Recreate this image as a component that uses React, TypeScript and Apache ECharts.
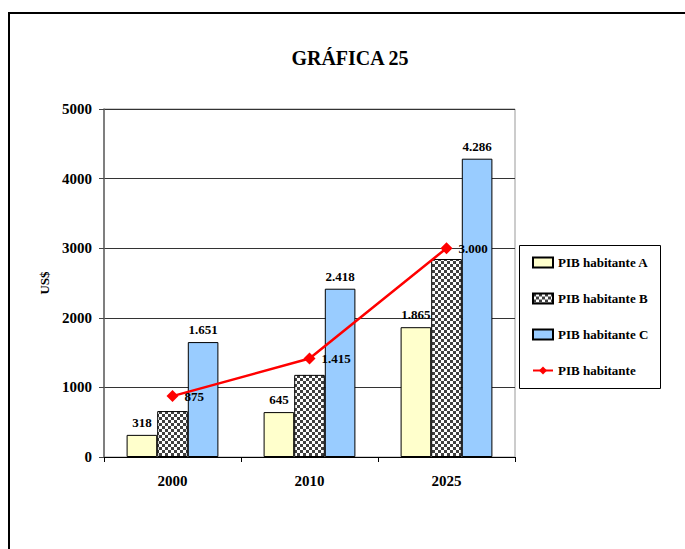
import React, { useEffect, useRef } from "react";
import * as echarts from "echarts";

const categories = ["2000", "2010", "2025"];
const seriesA = [318, 645, 1865];
const seriesB = [660, 1180, 2845];
const seriesC = [1651, 2418, 4286];
const seriesLine = [875, 1415, 3000];
const seriesNames = ["PIB habitante A", "PIB habitante B", "PIB habitante C", "PIB habitante"];
const yTicks = { min: 0, max: 5000, interval: 1000 };

const FONT = "'Liberation Serif', 'Times New Roman', serif";

function fmt(v: number): string {
  const s = String(Math.round(v));
  return s.replace(/\B(?=(\d{3})+(?!\d))/g, ".");
}

function makeChecker(): HTMLCanvasElement {
  const c = document.createElement("canvas");
  c.width = 6;
  c.height = 6;
  const ctx = c.getContext("2d")!;
  ctx.fillStyle = "#ffffff";
  ctx.fillRect(0, 0, 6, 6);
  ctx.fillStyle = "#404040";
  ctx.fillRect(0, 0, 3, 3);
  ctx.fillRect(3, 3, 3, 3);
  return c;
}

export default function App() {
  const ref = useRef<HTMLDivElement>(null);
  useEffect(() => {
    if (!ref.current) return;
    const chart = echarts.init(ref.current, null, { renderer: "svg" });
    const checker = makeChecker();
    const barLabel = {
      show: true,
      position: "top" as const,
      distance: 6,
      color: "#000",
      fontFamily: FONT,
      fontWeight: "bold" as const,
      fontSize: 13,
      formatter: (p: any) => fmt(p.value),
    };
    const option: any = {
      animation: false,
      backgroundColor: "#ffffff",
      textStyle: { fontFamily: FONT },
      grid: {
        left: 104,
        right: 170,
        top: 109,
        bottom: 92,
        show: true,
        borderColor: "#999999",
        borderWidth: 1,
      },
      graphic: [
        {
          type: "rect",
          shape: { x: 9, y: 13, width: 800, height: 800 },
          style: { fill: "none", stroke: "#000", lineWidth: 2 },
          silent: true,
        },
        {
          type: "text",
          x: 350,
          y: 58,
          style: {
            text: "GRÁFICA 25",
            fontFamily: FONT,
            fontWeight: "bold",
            fontSize: 20,
            fill: "#000",
            align: "center",
            verticalAlign: "middle",
          },
        },
        {
          type: "rect",
          shape: { x: 519.5, y: 245.5, width: 141, height: 143 },
          style: { fill: "#fff", stroke: "#000", lineWidth: 1 },
          z: -1,
          silent: true,
        },
      ],
      legend: {
        orient: "vertical",
        left: 527,
        top: 250,
        itemWidth: 20,
        itemHeight: 10,
        itemGap: 21,
        textStyle: {
          fontFamily: FONT,
          fontWeight: "bold",
          fontSize: 13,
          color: "#000",
          lineHeight: 15,
        },
        data: [
          { name: seriesNames[0], icon: "rect" },
          { name: seriesNames[1], icon: "rect" },
          { name: seriesNames[2], icon: "rect" },
          { name: seriesNames[3] },
        ],
      },
      xAxis: {
        type: "category",
        data: categories,
        axisLine: { lineStyle: { color: "#000", width: 1 } },
        axisTick: { show: true, length: 5, inside: false, lineStyle: { color: "#000" } },
        axisLabel: {
          color: "#000",
          fontFamily: FONT,
          fontWeight: "bold",
          fontSize: 15,
          margin: 16,
        },
      },
      yAxis: {
        type: "value",
        min: yTicks.min,
        max: yTicks.max,
        interval: yTicks.interval,
        name: "US$",
        nameLocation: "middle",
        nameGap: 50,
        nameRotate: 90,
        nameTextStyle: {
          color: "#000",
          fontFamily: FONT,
          fontWeight: "bold",
          fontSize: 13,
        },
        axisLine: { show: true, lineStyle: { color: "#666", width: 1.5 } },
        axisTick: { show: true, length: 5, lineStyle: { color: "#444" } },
        axisLabel: {
          color: "#000",
          fontFamily: FONT,
          fontWeight: "bold",
          fontSize: 15,
          margin: 12,
          formatter: (v: number) => String(v),
        },
        splitLine: { show: true, lineStyle: { color: "#333", width: 1 } },
      },
      series: [
        {
          name: seriesNames[0],
          type: "bar",
          data: seriesA,
          barGap: "0%",
          barCategoryGap: "33%",
          itemStyle: { color: "#FFFFCC", borderColor: "#000", borderWidth: 1 },
          label: barLabel,
        },
        {
          name: seriesNames[1],
          type: "bar",
          data: seriesB,
          barGap: "0%",
          barCategoryGap: "33%",
          itemStyle: {
            color: { image: checker, repeat: "repeat", imageWidth: 6, imageHeight: 6 },
            borderColor: "#000",
            borderWidth: 1,
          },
        },
        {
          name: seriesNames[2],
          type: "bar",
          data: seriesC,
          barGap: "0%",
          barCategoryGap: "33%",
          itemStyle: { color: "#99CCFF", borderColor: "#000", borderWidth: 1 },
          label: barLabel,
        },
        {
          name: seriesNames[3],
          type: "line",
          data: seriesLine,
          symbol: "diamond",
          symbolSize: 12,
          color: "#FF0000",
          lineStyle: { color: "#FF0000", width: 2.5 },
          itemStyle: { color: "#FF0000" },
          z: 5,
          label: {
            show: true,
            position: "right",
            distance: 6,
            color: "#000",
            fontFamily: FONT,
            fontWeight: "bold",
            fontSize: 13,
            formatter: (p: any) => fmt(p.value),
          },
        },
      ],
    };
    chart.setOption(option);
    return () => chart.dispose();
  }, []);
  return (
    <div
      ref={ref}
      style={{ position: "absolute", left: 0, top: 0, width: 685, height: 549 }}
    />
  );
}
